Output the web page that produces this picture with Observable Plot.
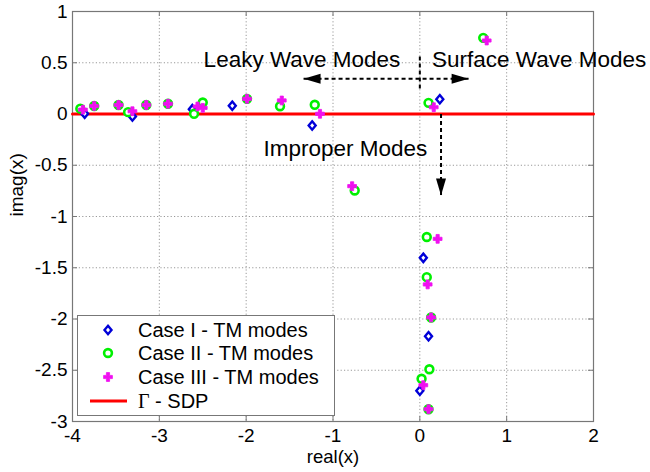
<!DOCTYPE html>
<html>
<head>
<meta charset="utf-8">
<script src="https://cdn.jsdelivr.net/npm/d3@7"></script>
<script src="https://cdn.jsdelivr.net/npm/@observablehq/plot@0.6"></script>
<style>
  body { margin: 0; background: white; }
  #wrap { position: relative; width: 650px; height: 472px; font-family: "Liberation Sans", Arial, sans-serif; }
  #legend { position: absolute; left: 77px; top: 315px; width: 258px; height: 101px; box-sizing: border-box;
            border: 1px solid #777; background: white; }
  #legend svg { position: absolute; left: 0; top: 0; }
</style>
</head>
<body>
<div id="wrap"></div>
<script>
// ---- data ----
const caseIReal  = [-3.86, -3.31, -2.62, -2.16, -1.24, 0.23, 0.04, 0.10, 0.00];
const caseIImag  = [0.003, -0.024, 0.047, 0.08, -0.112, 0.144, -1.403, -2.168, -2.70];

const caseIIReal = [-3.91, -3.75, -3.47, -3.36, -3.15, -2.90, -2.60, -2.50, -1.99, -1.61, -1.21, 0.10, 0.73, -0.75, 0.08, 0.08, 0.13, 0.11, 0.02, 0.10];
const caseIIImag = [0.052, 0.078, 0.088, 0.018, 0.088, 0.10, 0.002, 0.112, 0.148, 0.076, 0.09, 0.109, 0.743, -0.746, -1.20, -1.592, -1.985, -2.49, -2.583, -2.88];

const caseIIIReal = [-3.88, -3.75, -3.47, -3.31, -3.15, -2.90, -2.56, -2.50, -1.99, -1.59, -1.15, 0.16, 0.77, -0.78, 0.205, 0.09, 0.13, 0.04, 0.10];
const caseIIIImag = [0.042, 0.078, 0.088, 0.027, 0.088, 0.10, 0.073, 0.06, 0.148, 0.132, 0.002, 0.066, 0.717, -0.704, -1.218, -1.663, -1.985, -2.646, -2.88];

const sdpReal = [-4, 2];
const sdpImag = [0, 0];

const xTicks = [-4, -3, -2, -1, 0, 1, 2];
const yTicks = [-3, -2.5, -2, -1.5, -1, -0.5, 0, 0.5, 1];

const annoLabels = ["Leaky Wave Modes", "Surface Wave Modes", "Improper Modes"];
const annoX = [-2.49, 0.14, -1.80];
const annoY = [0.527, 0.527, -0.343];

// dashed guide lines: horizontal double arrow, short vertical divider, downward arrow
const guideX1 = [-1.339, 0.0, 0.244];
const guideY1 = [0.343, 0.56, 0.0];
const guideX2 = [0.562, 0.0, 0.244];
const guideY2 = [0.343, 0.22, -0.795];

// arrow heads (tips)
const headLeft  = [{x: -1.339, y: 0.343}];
const headRight = [{x: 0.562, y: 0.343}];
const headDown  = [{x: 0.244, y: -0.795}];

const legendLabels = ["Case I - TM modes", "Case II - TM modes", "Case III - TM modes", "Γ - SDP"];

// ---- helpers ----
const zip = (xs, ys) => xs.map((x, i) => ({x, y: ys[i]}));
const blue = "#0000d8", green = "#00f000", magenta = "#f010f0", red = "#ff0000";

const diamondSym = {draw(c) { const a = 4.2, b = 3.5; c.moveTo(0, -a); c.lineTo(b, 0); c.lineTo(0, a); c.lineTo(-b, 0); c.closePath(); }};
const crossSym = {draw(c) { const w = 1.6, l = 4.4;
  c.moveTo(-w, -l); c.lineTo(w, -l); c.lineTo(w, -w); c.lineTo(l, -w); c.lineTo(l, w); c.lineTo(w, w);
  c.lineTo(w, l); c.lineTo(-w, l); c.lineTo(-w, w); c.lineTo(-l, w); c.lineTo(-l, -w); c.lineTo(-w, -w); c.closePath(); }};
function headSym(dir) {
  const L = 17, W = 5;
  return {draw(c) {
    if (dir === "left")  { c.moveTo(0, 0); c.lineTo(L, -W); c.lineTo(L, W); }
    if (dir === "right") { c.moveTo(0, 0); c.lineTo(-L, -W); c.lineTo(-L, W); }
    if (dir === "down")  { c.moveTo(0, 0); c.lineTo(-W, -L); c.lineTo(W, -L); }
    c.closePath();
  }};
}

const guides = guideX1.map((x1, i) => ({x1, y1: guideY1[i], x2: guideX2[i], y2: guideY2[i]}));
const annos = annoLabels.map((t, i) => ({t, x: annoX[i], y: annoY[i]}));

const W = 650, H = 472, mL = 72, mT = 11, mR = 57, mB = 51;
const fw = W - mL - mR, fh = H - mT - mB;
const axisGray = "#777";

const chart = Plot.plot({
  width: W, height: H,
  marginLeft: mL, marginTop: mT, marginRight: mR, marginBottom: mB,
  x: {domain: [-4, 2]},
  y: {domain: [-3, 1]},
  style: {fontFamily: "'Liberation Sans', Arial, sans-serif", fontSize: "19px", background: "white", color: "black", overflow: "visible"},
  marks: [
    Plot.gridX(xTicks.slice(1, -1), {stroke: "#999", strokeOpacity: 1, strokeDasharray: "1.2,2.2"}),
    Plot.gridY(yTicks.slice(1, -1), {stroke: "#999", strokeOpacity: 1, strokeDasharray: "1.2,2.2"}),
    Plot.frame({stroke: axisGray, strokeWidth: 1.2}),
    Plot.tickX(xTicks, {x: d => d, insetTop: fh - 5, stroke: axisGray}),
    Plot.tickX(xTicks, {x: d => d, insetBottom: fh - 5, stroke: axisGray}),
    Plot.tickY(yTicks, {y: d => d, insetRight: fw - 5, stroke: axisGray}),
    Plot.tickY(yTicks, {y: d => d, insetLeft: fw - 5, stroke: axisGray}),
    Plot.axisX(xTicks, {tickSize: 0, tickPadding: 7, tickFormat: d => String(d), label: null, fontSize: 19}),
    Plot.axisY(yTicks, {tickSize: 0, tickPadding: 5, tickFormat: d => String(d), label: null, fontSize: 19}),
    Plot.text(["real(x)"], {frameAnchor: "bottom", dy: 41, fontSize: 18.5}),
    Plot.text(["imag(x)"], {frameAnchor: "left", dx: -56, rotate: -90, fontSize: 19}),

    Plot.line(zip(sdpReal, sdpImag), {x: "x", y: "y", stroke: red, strokeWidth: 3}),

    Plot.dot(zip(caseIReal, caseIImag), {x: "x", y: "y", symbol: diamondSym, r: 4, fill: "white", stroke: blue, strokeWidth: 2.4}),
    Plot.dot(zip(caseIIReal, caseIIImag), {x: "x", y: "y", symbol: "circle", r: 3.9, fill: "white", stroke: green, strokeWidth: 2.6}),
    Plot.dot(zip(caseIIIReal, caseIIIImag), {x: "x", y: "y", symbol: crossSym, r: 4, fill: magenta, stroke: magenta, strokeWidth: 0.8}),

    Plot.link(guides, {x1: "x1", y1: "y1", x2: "x2", y2: "y2", stroke: "black", strokeWidth: 2, strokeDasharray: "4,3"}),
    Plot.dot(headLeft, {x: "x", y: "y", symbol: headSym("left"), r: 5, fill: "black", stroke: "none"}),
    Plot.dot(headRight, {x: "x", y: "y", symbol: headSym("right"), r: 5, fill: "black", stroke: "none"}),
    Plot.dot(headDown, {x: "x", y: "y", symbol: headSym("down"), r: 5, fill: "black", stroke: "none"}),

    Plot.text(annos, {x: "x", y: "y", text: "t", textAnchor: "start", fontSize: 22.5, fill: "black"})
  ]
});

const wrap = document.getElementById("wrap");
wrap.appendChild(chart);

// ---- legend (overlay inside the axes, lower left) ----
const leg = document.createElement("div");
leg.id = "legend";
const ns = "http://www.w3.org/2000/svg";
const ls = document.createElementNS(ns, "svg");
ls.setAttribute("width", 256); ls.setAttribute("height", 99);
ls.setAttribute("font-family", "'Liberation Sans', Arial, sans-serif");
const rowsY = [14, 37, 61, 85];
function el(tag, attrs) { const e = document.createElementNS(ns, tag); for (const k in attrs) e.setAttribute(k, attrs[k]); ls.appendChild(e); return e; }
const mx = 30;
el("path", {d: `M${mx},${rowsY[0]-4.2}L${mx+3.5},${rowsY[0]}L${mx},${rowsY[0]+4.2}L${mx-3.5},${rowsY[0]}Z`, fill: "white", stroke: blue, "stroke-width": 2.4});
el("circle", {cx: mx, cy: rowsY[1], r: 3.9, fill: "white", stroke: green, "stroke-width": 2.6});
{
  const w = 1.6, l = 4.4, cx = mx, cy = rowsY[2];
  const pts = [[-w,-l],[w,-l],[w,-w],[l,-w],[l,w],[w,w],[w,l],[-w,l],[-w,w],[-l,w],[-l,-w],[-w,-w]];
  el("path", {d: "M" + pts.map(p => `${cx+p[0]},${cy+p[1]}`).join("L") + "Z", fill: magenta, stroke: magenta, "stroke-width": 0.8});
}
el("line", {x1: 12, x2: 49, y1: rowsY[3], y2: rowsY[3], stroke: red, "stroke-width": 3});
legendLabels.forEach((t, i) => {
  const tx = el("text", {x: 60, y: rowsY[i], "font-size": 20, "dominant-baseline": "central", fill: "black"});
  if (t.startsWith("Γ")) {
    const g = document.createElementNS(ns, "tspan");
    g.setAttribute("font-family", "'Liberation Serif', 'Times New Roman', serif");
    g.textContent = "Γ";
    tx.appendChild(g);
    tx.appendChild(document.createTextNode(t.slice(1)));
  } else {
    tx.textContent = t;
  }
});
leg.appendChild(ls);
wrap.appendChild(leg);
</script>
</body>
</html>
